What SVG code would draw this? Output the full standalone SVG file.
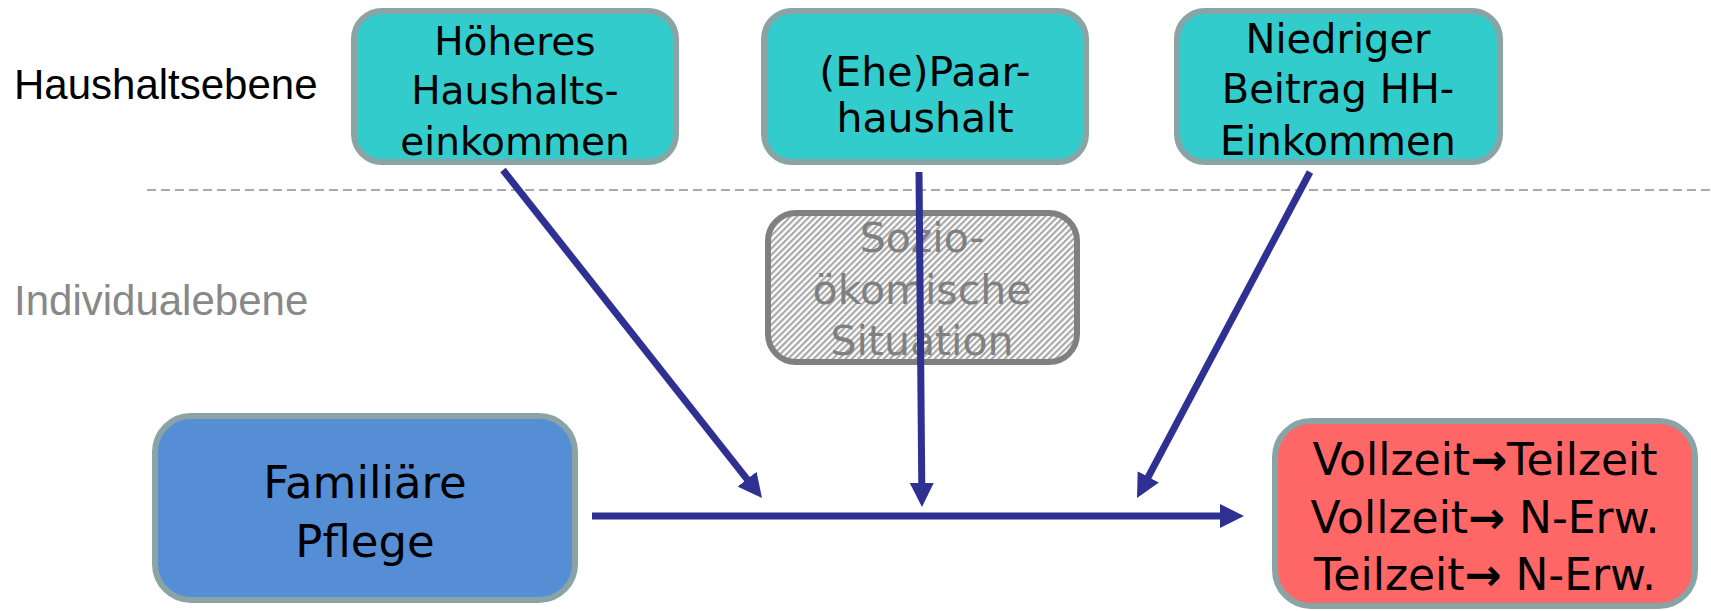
<svg xmlns="http://www.w3.org/2000/svg" width="1711" height="611" viewBox="0 0 1711 611">
<style>
.lvl{font-family:"Liberation Sans",Arial,sans-serif;font-size:42px}
.t{font-family:"DejaVu Sans","Liberation Sans",sans-serif;text-anchor:middle;fill:#000}
.ar{font-weight:bold}
.hh rect{fill:#33CCCC;stroke:#8AA3A5;stroke-width:6}
.conn line{stroke:#2E3192;stroke-width:7;marker-end:url(#ah)}
</style>
<defs>
<marker id="ah" markerUnits="userSpaceOnUse" markerWidth="24" markerHeight="24" viewBox="0 0 24 24" refX="4" refY="12" orient="auto">
<path d="M0,0 L24,12 L0,24 z" fill="#2E3192"/>
</marker>
<pattern id="hatch" patternUnits="userSpaceOnUse" width="4.5" height="4.5" patternTransform="rotate(45)">
<rect width="4.5" height="4.5" fill="#ffffff"/>
<rect width="2.2" height="4.5" fill="#a8a8a8"/>
</pattern>
</defs>
<rect width="1711" height="611" fill="#ffffff"/>

<text class="lvl" x="14" y="99" fill="#000">Haushaltsebene</text>
<text class="lvl" x="14" y="315" fill="#888888">Individualebene</text>
<line x1="147" y1="190" x2="1711" y2="190" stroke="#AAAAAA" stroke-width="2" stroke-dasharray="9,5"/>

<g id="node-hoeheres" class="hh">
<rect x="354" y="11" width="322" height="151" rx="28"/>
<text class="t" font-size="39"><tspan x="515" y="55">Höheres</tspan><tspan x="515" y="104">Haushalts-</tspan><tspan x="515" y="155">einkommen</tspan></text>
</g>
<g id="node-paarhaushalt" class="hh">
<rect x="764" y="11" width="322" height="151" rx="28"/>
<text class="t" font-size="41"><tspan x="925" y="86">(Ehe)Paar-</tspan><tspan x="925" y="132">haushalt</tspan></text>
</g>
<g id="node-niedriger" class="hh">
<rect x="1177" y="11" width="323" height="151" rx="28"/>
<text class="t" font-size="40"><tspan x="1338" y="53">Niedriger</tspan><tspan x="1338" y="103">Beitrag HH-</tspan><tspan x="1338" y="155">Einkommen</tspan></text>
</g>
<g id="node-sozio">
<rect x="768" y="213" width="309" height="149" rx="28" fill="url(#hatch)" stroke="#808080" stroke-width="6"/>
<text class="t" font-size="41" style="fill:#808080"><tspan x="922" y="252">Sozio-</tspan><tspan x="922" y="304">ökomische</tspan><tspan x="922" y="355">Situation</tspan></text>
</g>
<g id="node-pflege">
<rect x="155" y="416" width="420" height="184" rx="36" fill="#558ED5" stroke="#8AA3A5" stroke-width="6"/>
<text class="t" font-size="45"><tspan x="365" y="498">Familiäre</tspan><tspan x="365" y="557">Pflege</tspan></text>
</g>
<g id="node-erwerb">
<rect x="1275" y="421" width="420" height="185" rx="36" fill="#FF6666" stroke="#8AA3A5" stroke-width="6"/>
<text class="t" font-size="44"><tspan x="1485" y="475">Vollzeit<tspan class="ar">→</tspan>Teilzeit</tspan><tspan x="1485" y="533">Vollzeit<tspan class="ar">→</tspan> N-Erw.</tspan><tspan x="1485" y="590">Teilzeit<tspan class="ar">→</tspan> N-Erw.</tspan></text>
</g>

<g id="connectors" class="conn">
<line x1="592" y1="516" x2="1224" y2="516"/>
<line x1="503" y1="170" x2="749.6" y2="482.3"/>
<line x1="919" y1="172" x2="921.8" y2="487"/>
<line x1="1310" y1="172" x2="1146.4" y2="480.3"/>
</g>
</svg>
